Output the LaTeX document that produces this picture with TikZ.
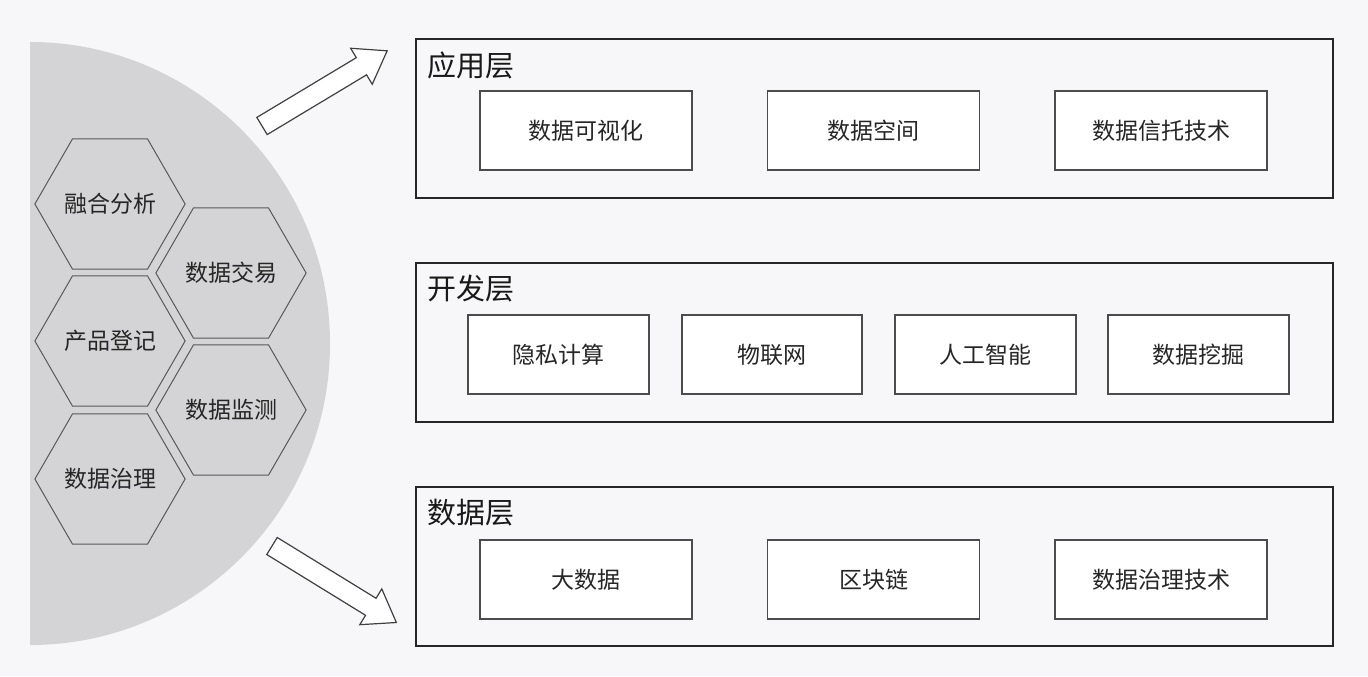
\documentclass[tikz,border=0pt]{standalone}
\usepackage{fontspec}
\newfontfamily\cjk{Noto Sans CJK SC}
\usetikzlibrary{shapes.geometric}
\begin{document}
\begin{tikzpicture}[x=0.5pt,y=-0.5pt,
  hexa/.style={regular polygon,regular polygon sides=6,minimum size=75pt,inner sep=0pt,fill=discgray,draw=gray!70!black,line width=0.5pt,font=\cjk\fontsize{11.5}{13}\selectfont,text=black!85},
  layer/.style={draw=black!85,line width=0.9pt,anchor=north west,inner sep=0pt},
  item/.style={draw=black!70,line width=0.6pt,fill=white,minimum height=39.5pt,inner sep=0pt,font=\cjk\fontsize{11.5}{13}\selectfont,text=black!85},
  ttl/.style={anchor=west,font=\cjk\fontsize{14.5}{16}\selectfont,text=black!90},
  hollow/.style={draw=black!75,fill=white,line width=0.6pt}]
\definecolor{discgray}{HTML}{D4D4D6}
\definecolor{bg}{HTML}{F7F7F9}
\fill[bg] (0,0) rectangle (1368,676);
\useasboundingbox (0,0) rectangle (1368,676);
% half disc
\fill[discgray] (30,42) arc[start angle=-90,end angle=90,x radius=300,y radius=301.5] -- cycle;
\node[hexa] (h1) at (110,204) {融合分析};
\node[hexa] (h2) at (231,273) {数据交易};
\node[hexa] (h3) at (110,341) {产品登记};
\node[hexa] (h4) at (231,410) {数据监测};
\node[hexa] (h5) at (110,479) {数据治理};
% arrows
\coordinate (a1) at (262,126);
\coordinate (a2) at (272,546);
\begin{scope}[shift={(a1)},rotate=31]
\draw[hollow] (0,-10) -- (116,-10) -- (116,-21) -- (146,0) -- (116,21) -- (116,10) -- (0,10) -- cycle;
\end{scope}
\begin{scope}[shift={(a2)},rotate=-31.6]
\draw[hollow] (0,-10) -- (116,-10) -- (116,-21) -- (146,0) -- (116,21) -- (116,10) -- (0,10) -- cycle;
\end{scope}
% layers
\node[layer,minimum width=458.5pt,minimum height=79.5pt] (L1) at (415,38) {};
\node[layer,minimum width=458.5pt,minimum height=79.5pt] (L2) at (415,262) {};
\node[layer,minimum width=458.5pt,minimum height=79.5pt] (L3) at (415,486) {};
\node[ttl] (t1) at (420,65) {应用层};
\node[ttl] (t2) at (420,289) {开发层};
\node[ttl] (t3) at (420,513) {数据层};
\node[item,minimum width=106pt] (b11) at (586,130.5) {数据可视化};
\node[item,minimum width=106pt] (b12) at (873.5,130.5) {数据空间};
\node[item,minimum width=106pt] (b13) at (1161,130.5) {数据信托技术};
\node[item,minimum width=90.5pt] (b21) at (558.5,354.5) {隐私计算};
\node[item,minimum width=90pt] (b22) at (772,354.5) {物联网};
\node[item,minimum width=90.5pt] (b23) at (985.5,354.5) {人工智能};
\node[item,minimum width=90.5pt] (b24) at (1198.5,354.5) {数据挖掘};
\node[item,minimum width=106pt] (b31) at (586,579.5) {大数据};
\node[item,minimum width=106pt] (b32) at (873.5,579.5) {区块链};
\node[item,minimum width=106pt] (b33) at (1161,579.5) {数据治理技术};
\end{tikzpicture}
\end{document}
